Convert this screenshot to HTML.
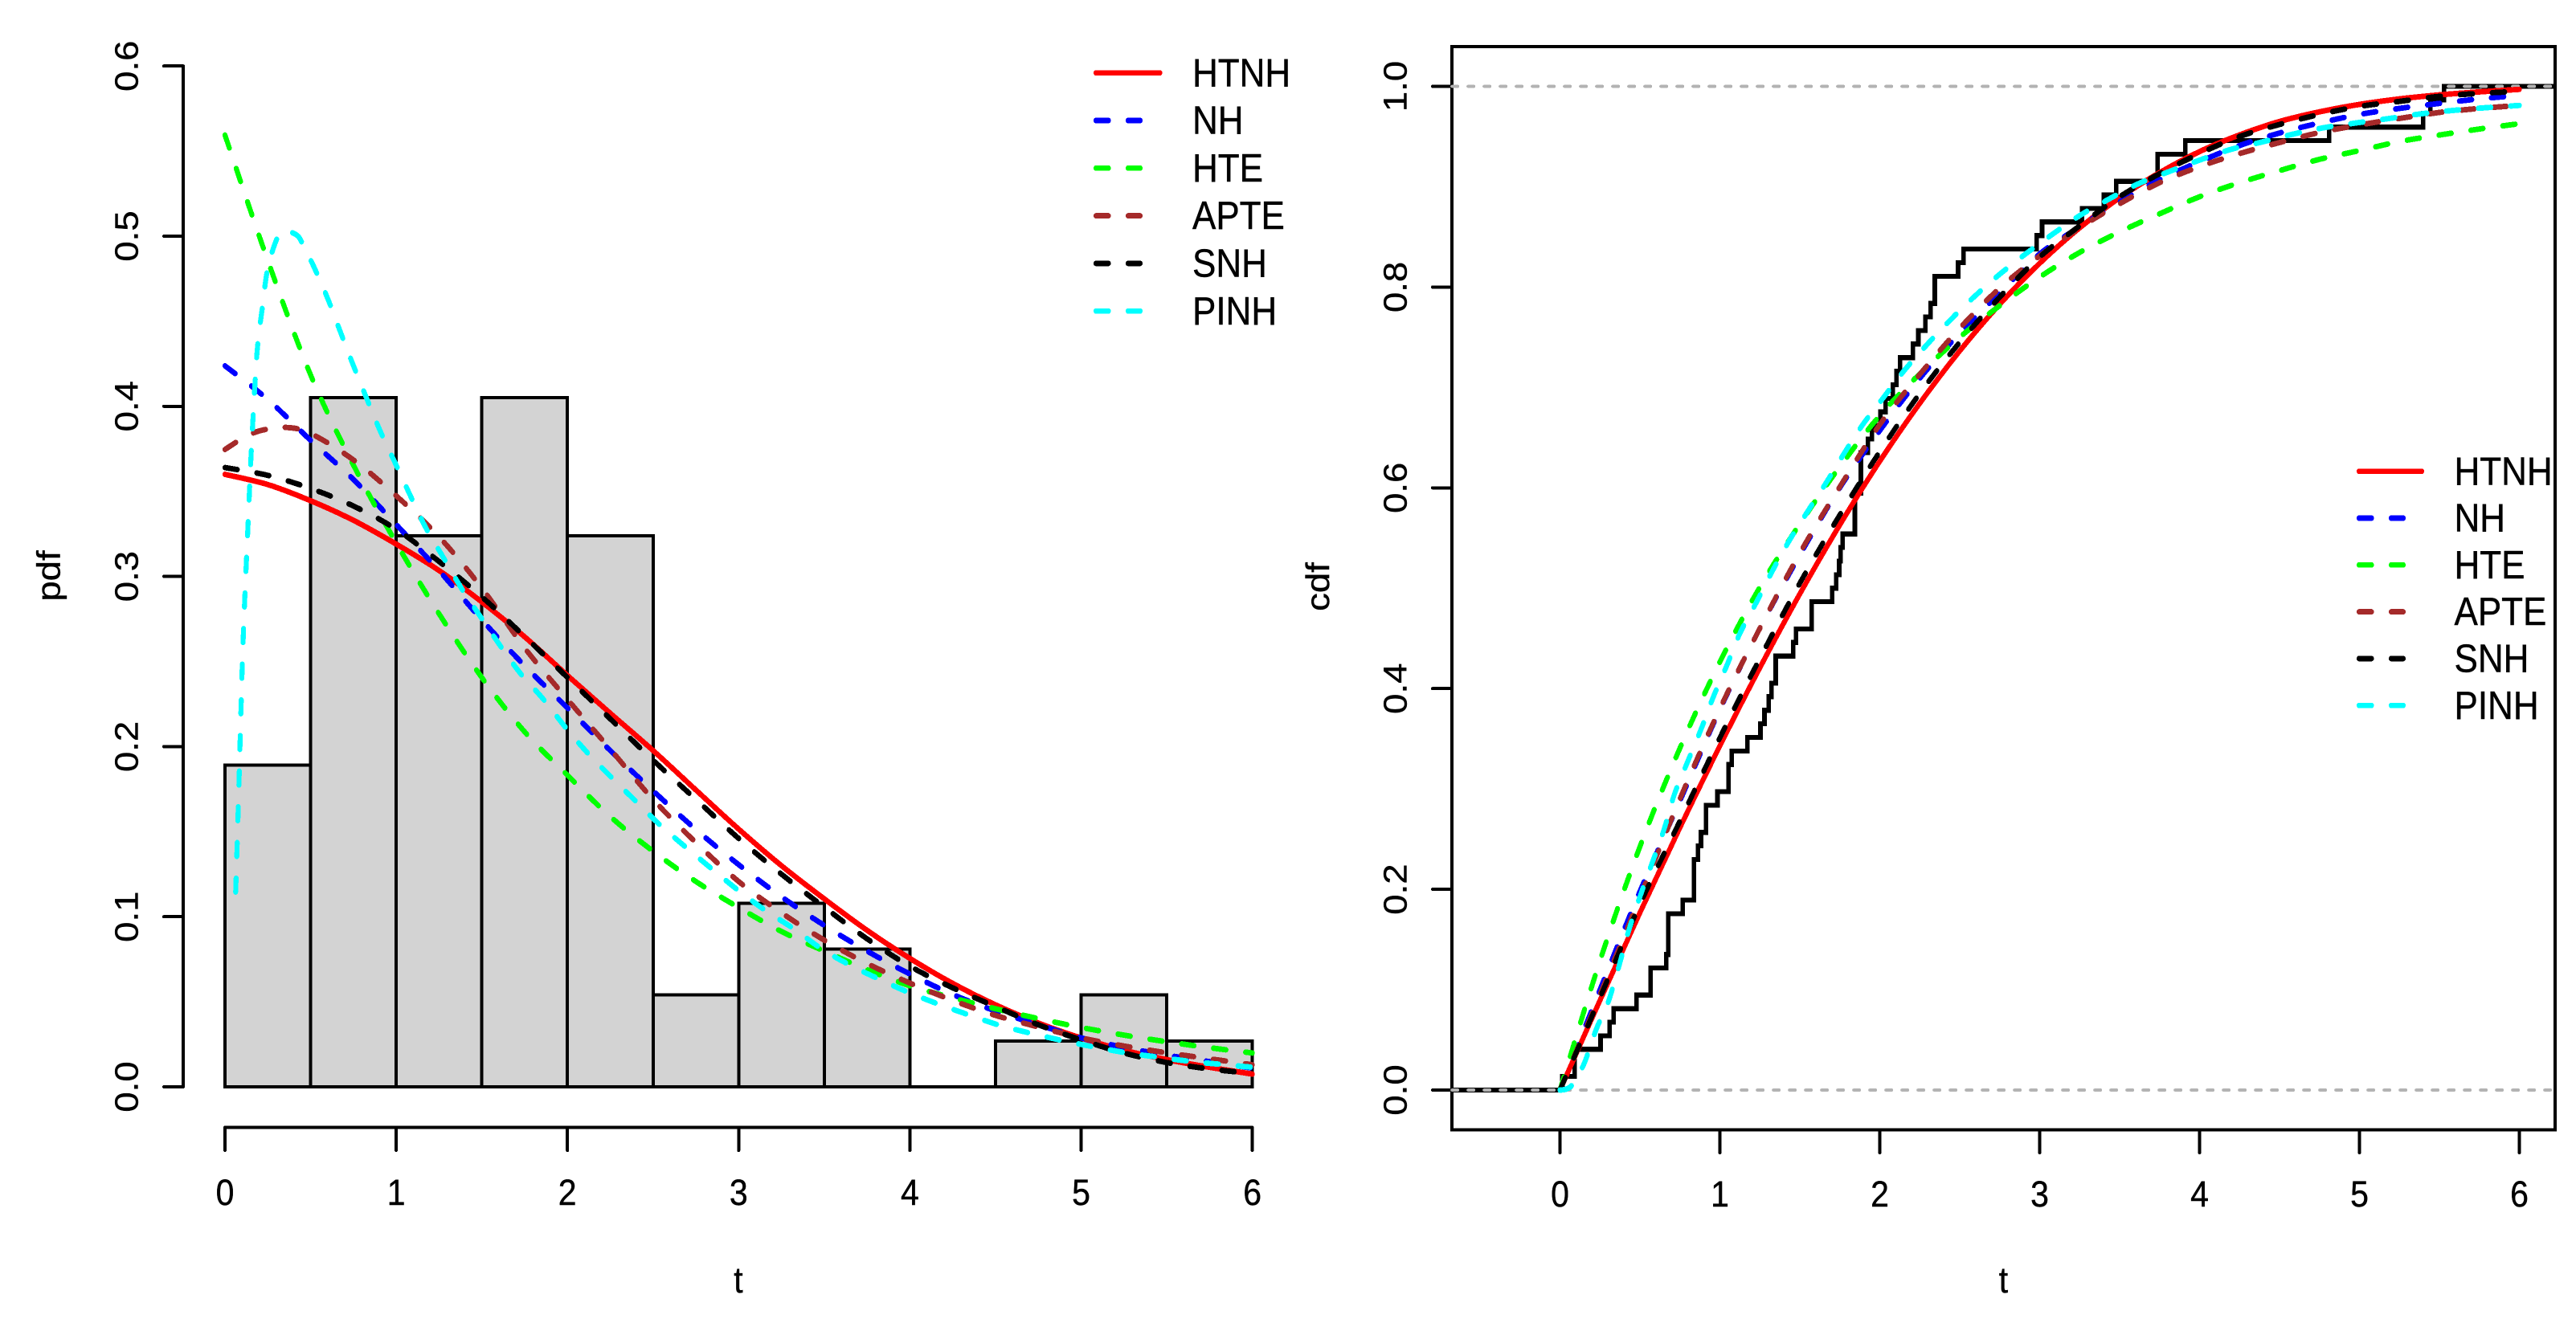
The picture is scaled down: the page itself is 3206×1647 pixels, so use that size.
<!DOCTYPE html>
<html lang="en">
<head>
<meta charset="utf-8">
<title>Fitted pdf and cdf comparison</title>
<style>
html,body{margin:0;padding:0;background:#fff;}
svg{display:block;font-family:"Liberation Sans",Arial,sans-serif;}
</style>
</head>
<body>
<svg id="figure" xmlns="http://www.w3.org/2000/svg" width="3206" height="1647" viewBox="0 0 3206 1647">
  <rect x="0" y="0" width="3206" height="1647" fill="#ffffff"/>
  <g id="pdf-panel"></g>
  <g id="cdf-panel"></g>
</svg>
<script>
// ---- shared categories ----
const modelNames = ['HTNH', 'NH', 'HTE', 'APTE', 'SNH', 'PINH'];
const modelColors = ['#ff0000', '#0000ff', '#00ff00', '#a52a2a', '#000000', '#00ffff'];

// ---- pdf panel data ----
const histBreaks = [0, 0.5, 1, 1.5, 2, 2.5, 3, 3.5, 4, 4.5, 5, 5.5, 6];
const histDensity = [0.189, 0.405, 0.324, 0.405, 0.324, 0.054, 0.108, 0.081, 0, 0.027, 0.054, 0.027];
const pdfXTicks = [0, 1, 2, 3, 4, 5, 6];
const pdfYTicks = [0, 0.1, 0.2, 0.3, 0.4, 0.5, 0.6];
const gridTimes = [0, 0.25, 0.5, 0.75, 1, 1.25, 1.5, 1.75, 2, 2.25, 2.5, 2.75, 3, 3.25, 3.5, 3.75, 4, 4.25, 4.5, 4.75, 5, 5.25, 5.5, 5.75, 6];
const pdfHTNH = [0.360, 0.354, 0.3445, 0.333, 0.319, 0.3035, 0.285, 0.2645, 0.2418, 0.2196, 0.1977, 0.1745, 0.1515, 0.130, 0.1105, 0.092, 0.0755, 0.0608, 0.0482, 0.0375, 0.0287, 0.0215, 0.016, 0.0115, 0.0075];
const pdfNH = [0.4238, 0.404, 0.380, 0.357, 0.3305, 0.3034, 0.2745, 0.2475, 0.2227, 0.1977, 0.174, 0.1513, 0.1306, 0.1117, 0.0949, 0.0798, 0.0663, 0.0543, 0.0446, 0.0365, 0.0288, 0.0232, 0.0186, 0.0148, 0.011];
const pdfHTE = [0.5594, 0.4857, 0.4185, 0.3655, 0.3197, 0.2781, 0.2406, 0.2087, 0.1832, 0.1589, 0.1385, 0.1207, 0.1054, 0.0913, 0.0798, 0.0689, 0.0594, 0.0523, 0.0459, 0.0401, 0.0349, 0.0304, 0.0265, 0.023, 0.0199];
const pdfAPTETimes = [0, 0.1, 0.2, 0.35, 0.5, 0.75, 1, 1.25, 1.5, 1.75, 2, 2.25, 2.5, 2.75, 3, 3.25, 3.5, 3.75, 4, 4.25, 4.5, 4.75, 5, 5.25, 5.5, 5.75, 6];
const pdfAPTE = [0.3746, 0.381, 0.3855, 0.3876, 0.384, 0.3685, 0.3474, 0.3233, 0.2932, 0.258, 0.2278, 0.1985, 0.169, 0.1436, 0.1207, 0.1023, 0.0862, 0.0725, 0.061, 0.0508, 0.042, 0.0352, 0.0288, 0.024, 0.02, 0.0165, 0.013];
const pdfSNH = [0.364, 0.3594, 0.3517, 0.3414, 0.3277, 0.3088, 0.288, 0.2647, 0.2406, 0.2163, 0.192, 0.169, 0.146, 0.125, 0.1056, 0.087, 0.0709, 0.0582, 0.0472, 0.0365, 0.0276, 0.0199, 0.0143, 0.0105, 0.0079];
const pdfPINHTimes = [0.0625, 0.078, 0.09, 0.102, 0.1166, 0.1347, 0.1525, 0.177, 0.1924, 0.219, 0.247, 0.2925, 0.3363, 0.4223, 0.466, 0.5193, 0.602, 0.6757, 0.751, 0.829, 0.907, 1, 1.089, 1.176, 1.275, 1.38, 1.5, 1.604, 1.724, 1.858, 1.987, 2.112, 2.256, 2.397, 2.541, 2.687, 2.84, 2.995, 3.16, 3.325, 3.484, 3.647, 3.82, 3.99, 4.17, 4.35, 4.53, 4.71, 4.9, 5.09, 5.27, 5.46, 5.65, 5.84, 6];
const pdfPINH = [0.1145, 0.1654, 0.209, 0.2509, 0.2895, 0.3305, 0.3715, 0.4161, 0.4374, 0.4586, 0.4797, 0.4957, 0.5028, 0.5004, 0.4924, 0.482, 0.4628, 0.4433, 0.4237, 0.4043, 0.3854, 0.3654, 0.3461, 0.328, 0.3112, 0.2932, 0.2752, 0.2598, 0.2432, 0.228, 0.2115, 0.1969, 0.182, 0.1681, 0.1539, 0.1412, 0.1284, 0.1157, 0.1034, 0.0927, 0.0811, 0.0717, 0.0633, 0.0556, 0.0485, 0.0421, 0.036, 0.0314, 0.027, 0.0232, 0.0199, 0.0173, 0.0148, 0.013, 0.0115];

// ---- cdf panel data ----
const cdfXTicks = [0, 1, 2, 3, 4, 5, 6];
const cdfYTicks = [0, 0.2, 0.4, 0.6, 0.8, 1];
const cdfRefLevels = [0, 1];
const cdfXRange = [-0.676, 6.224];
const ecdfTimes = [0.015, 0.092, 0.092, 0.254, 0.310, 0.336, 0.479, 0.567, 0.567, 0.664, 0.677, 0.677, 0.677, 0.767, 0.838, 0.838, 0.838, 0.864, 0.882, 0.913, 0.913, 0.985, 1.054, 1.054, 1.074, 1.172, 1.254, 1.279, 1.305, 1.323, 1.349, 1.349, 1.459, 1.477, 1.574, 1.574, 1.703, 1.728, 1.746, 1.756, 1.767, 1.844, 1.844, 1.844, 1.882, 1.882, 1.882, 1.926, 1.951, 2.003, 2.036, 2.082, 2.105, 2.126, 2.208, 2.241, 2.285, 2.318, 2.344, 2.344, 2.49, 2.524, 2.981, 3.015, 3.265, 3.402, 3.479, 3.738, 3.738, 3.911, 4.810, 5.399, 5.443, 5.528];
const cdfHTNH = [0, 0.0893, 0.1767, 0.2614, 0.3429, 0.4207, 0.4943, 0.5631, 0.6265, 0.6842, 0.7364, 0.7829, 0.8237, 0.859, 0.889, 0.914, 0.935, 0.9516, 0.965, 0.9746, 0.982, 0.9875, 0.9915, 0.9945, 0.997];
const cdfNH = [0, 0.1, 0.198, 0.288, 0.379, 0.46, 0.533, 0.6, 0.657, 0.709, 0.754, 0.794, 0.833, 0.86, 0.885, 0.907, 0.925, 0.941, 0.9535, 0.9635, 0.972, 0.978, 0.983, 0.9875, 0.991];
const cdfHTE = [0, 0.1287, 0.2425, 0.3406, 0.4265, 0.501, 0.564, 0.621, 0.672, 0.7135, 0.75, 0.7815, 0.81, 0.8345, 0.855, 0.873, 0.89, 0.904, 0.916, 0.9273, 0.936, 0.945, 0.9515, 0.9575, 0.9628];
const cdfAPTE = [0, 0.095, 0.192, 0.29, 0.38, 0.46, 0.535, 0.601, 0.663, 0.713, 0.759, 0.799, 0.831, 0.859, 0.883, 0.904, 0.92, 0.933, 0.944, 0.954, 0.9615, 0.968, 0.974, 0.978, 0.981];
const cdfSNH = [0, 0.092, 0.185, 0.268, 0.351, 0.43, 0.505, 0.573, 0.636, 0.694, 0.745, 0.79, 0.83, 0.861, 0.89, 0.913, 0.933, 0.95, 0.962, 0.972, 0.98, 0.985, 0.99, 0.993, 0.995];
const cdfPINHTimes = [0, 0.04, 0.08, 0.151, 0.228, 0.3, 0.369, 0.433, 0.51, 0.574, 0.651, 0.715, 0.792, 0.882, 0.959, 1.044, 1.126, 1.228, 1.326, 1.433, 1.549, 1.669, 1.779, 1.895, 2.023, 2.151, 2.297, 2.438, 2.588, 2.748, 2.911, 3.079, 3.247, 3.428, 3.608, 3.8, 3.983, 4.19, 4.384, 4.577, 4.77, 4.977, 5.17, 5.38, 5.572, 5.78, 6];
const cdfPINH = [0, 0.001, 0.006, 0.0264, 0.061, 0.0869, 0.1236, 0.1604, 0.1971, 0.2252, 0.2598, 0.2944, 0.3247, 0.3593, 0.3917, 0.4232, 0.4552, 0.4858, 0.5164, 0.5471, 0.5765, 0.6062, 0.6348, 0.6633, 0.6899, 0.7165, 0.743, 0.7667, 0.79, 0.8125, 0.8329, 0.8525, 0.8709, 0.8872, 0.9023, 0.9145, 0.9255, 0.9369, 0.9443, 0.9521, 0.9586, 0.9635, 0.9676, 0.9725, 0.9758, 0.9786, 0.981];

// ---- axis functions ----
function xPdf(t) { return 280 + 213.1 * t; }
function yPdf(v) { return 1353 - 2118 * v; }
function xCdf(t) { return 1941.5 + 199 * t; }
function yCdf(v) { return 1357 - 1249.5 * v; }

const NS = 'http://www.w3.org/2000/svg';
const AXIS_W = 4;
const CURVE_W = 6.2;
const ECDF_W = 5.6;
const DASH = '15.5 24.5';
const STRETCH = 1.11;
const AXIS_FONT = 41;
const LEGEND_FONT = 44;

function make(tag, parent, attrs) {
  const n = document.createElementNS(NS, tag);
  for (const k in attrs) n.setAttribute(k, attrs[k]);
  parent.appendChild(n);
  return n;
}
// Strokes are drawn in a space compressed by STRETCH and scaled back,
// reproducing the anisotropic stroke and dash geometry of the resized source.
function smoothPath(ts, vs, fx, fy) {
  const p = ts.map(function (t, i) { return [fx(t), fy(vs[i]) / STRETCH]; });
  let d = 'M' + p[0][0].toFixed(1) + ' ' + p[0][1].toFixed(1);
  for (let i = 0; i < p.length - 1; i++) {
    const a = p[Math.max(i - 1, 0)], b = p[i], c = p[i + 1], e = p[Math.min(i + 2, p.length - 1)];
    const c1x = b[0] + (c[0] - a[0]) / 6, c1y = b[1] + (c[1] - a[1]) / 6;
    const c2x = c[0] - (e[0] - b[0]) / 6, c2y = c[1] - (e[1] - b[1]) / 6;
    d += 'C' + c1x.toFixed(2) + ' ' + c1y.toFixed(2) + ' ' + c2x.toFixed(2) + ' ' + c2y.toFixed(2) + ' ' + c[0].toFixed(2) + ' ' + c[1].toFixed(2);
  }
  return d;
}
function curveAttrs(d, color, dashed) {
  const a = { d: d, transform: 'scale(1,' + STRETCH + ')', fill: 'none', stroke: color, 'stroke-width': CURVE_W, 'stroke-linecap': 'round', 'stroke-linejoin': 'round', 'shape-rendering': 'crispEdges' };
  if (dashed) a['stroke-dasharray'] = DASH;
  return a;
}
function axisAttrs(d) {
  return { d: d, fill: 'none', stroke: '#000', 'stroke-width': AXIS_W, 'stroke-linecap': 'round', 'shape-rendering': 'crispEdges' };
}
function hText(x, y, anchor, size) {
  return { transform: 'translate(' + x + ',' + y + ') scale(1,' + STRETCH + ')', 'text-anchor': anchor, 'font-size': size, fill: '#000', stroke: '#000', 'stroke-width': 0.4 };
}
function vText(x, y, size) {
  return { transform: 'translate(' + x + ',' + y + ') scale(1,' + STRETCH + ') rotate(-90)', 'text-anchor': 'middle', 'font-size': size, fill: '#000', stroke: '#000', 'stroke-width': 0.4 };
}

// ================= PDF PANEL =================
const pdfPanel = document.getElementById('pdf-panel');

histDensity.forEach(function (h, i) {
  const x0 = xPdf(histBreaks[i]), x1 = xPdf(histBreaks[i + 1]), y0 = yPdf(0), y1 = yPdf(h);
  const el = make('path', pdfPanel, { d: 'M' + x0 + ' ' + y0 + 'V' + y1 + 'H' + x1 + 'V' + y0 + 'Z', fill: '#d3d3d3', stroke: '#000', 'stroke-width': AXIS_W, 'shape-rendering': 'crispEdges' });
  
  
});

const pdfXAxis = make('path', pdfPanel, axisAttrs('M' + xPdf(pdfXTicks[0]) + ' 1403.5H' + xPdf(pdfXTicks[pdfXTicks.length - 1])));


pdfXTicks.forEach(function (t) {
  const tick = make('path', pdfPanel, axisAttrs('M' + xPdf(t) + ' 1403.5V1432'));
  
  
  const lab = make('text', pdfPanel, hText(xPdf(t), 1500, 'middle', AXIS_FONT));
  lab.textContent = String(t);
  
  
});
const pdfYAxis = make('path', pdfPanel, axisAttrs('M228 ' + yPdf(pdfYTicks[0]) + 'V' + yPdf(pdfYTicks[pdfYTicks.length - 1])));


pdfYTicks.forEach(function (v) {
  const tick = make('path', pdfPanel, axisAttrs('M228 ' + yPdf(v) + 'H204'));
  
  
  const lab = make('text', pdfPanel, vText(171.5, yPdf(v), AXIS_FONT));
  lab.textContent = v.toFixed(1);
  
  
});
const pdfXTitle = make('text', pdfPanel, hText(919, 1609, 'middle', AXIS_FONT));
pdfXTitle.textContent = 't';


const pdfYTitle = make('text', pdfPanel, vText(74.6, 717, AXIS_FONT));
pdfYTitle.textContent = 'pdf';



const curveHTNHpdf = make('path', pdfPanel, curveAttrs(smoothPath(gridTimes, pdfHTNH, xPdf, yPdf), modelColors[0], false));


const curveNHpdf = make('path', pdfPanel, curveAttrs(smoothPath(gridTimes, pdfNH, xPdf, yPdf), modelColors[1], true));


const curveHTEpdf = make('path', pdfPanel, curveAttrs(smoothPath(gridTimes, pdfHTE, xPdf, yPdf), modelColors[2], true));


const curveAPTEpdf = make('path', pdfPanel, curveAttrs(smoothPath(pdfAPTETimes, pdfAPTE, xPdf, yPdf), modelColors[3], true));


const curveSNHpdf = make('path', pdfPanel, curveAttrs(smoothPath(gridTimes, pdfSNH, xPdf, yPdf), modelColors[4], true));


const curvePINHpdf = make('path', pdfPanel, curveAttrs(smoothPath(pdfPINHTimes, pdfPINH, xPdf, yPdf), modelColors[5], true));



modelNames.forEach(function (name, i) {
  const rowY = 90.7 + 59.3 * i;
  const keyY = (rowY / STRETCH).toFixed(2);
  const key = make('path', pdfPanel, curveAttrs(i === 0 ? 'M1364 ' + keyY + 'H1443.5' : 'M1364 ' + keyY + 'H1419', modelColors[i], i !== 0));
  
  
  const lab = make('text', pdfPanel, hText(1484, rowY + 16.6, 'start', LEGEND_FONT));
  lab.textContent = name;
  
  
});

// ================= CDF PANEL =================
const cdfPanel = document.getElementById('cdf-panel');

const cdfFrame = make('rect', cdfPanel, { x: xCdf(cdfXRange[0]), y: 58, width: xCdf(cdfXRange[1]) - xCdf(cdfXRange[0]), height: 1348.7, fill: 'none', stroke: '#000', 'stroke-width': AXIS_W, 'shape-rendering': 'crispEdges' });



cdfXTicks.forEach(function (t) {
  const tick = make('path', cdfPanel, axisAttrs('M' + xCdf(t) + ' 1406.7V1435'));
  
  
  const lab = make('text', cdfPanel, hText(xCdf(t), 1502, 'middle', AXIS_FONT));
  lab.textContent = String(t);
  
  
});
cdfYTicks.forEach(function (v) {
  const tick = make('path', cdfPanel, axisAttrs('M' + xCdf(cdfXRange[0]) + ' ' + yCdf(v) + 'H1783'));
  
  
  const lab = make('text', cdfPanel, vText(1750.5, yCdf(v), AXIS_FONT));
  lab.textContent = v.toFixed(1);
  
  
});
const cdfXTitle = make('text', cdfPanel, hText(2493.5, 1609, 'middle', AXIS_FONT));
cdfXTitle.textContent = 't';


const cdfYTitle = make('text', cdfPanel, vText(1654, 730.5, AXIS_FONT));
cdfYTitle.textContent = 'cdf';



let ecdfD = 'M' + xCdf(cdfXRange[0]) + ' ' + (yCdf(0) / STRETCH).toFixed(2);
ecdfTimes.forEach(function (t, i) {
  ecdfD += 'H' + xCdf(t).toFixed(1) + 'V' + (yCdf((i + 1) / ecdfTimes.length) / STRETCH).toFixed(2);
});
ecdfD += 'H' + xCdf(cdfXRange[1]);
const ecdfLine = make('path', cdfPanel, { d: ecdfD, transform: 'scale(1,' + STRETCH + ')', fill: 'none', stroke: '#000', 'stroke-width': ECDF_W, 'stroke-linejoin': 'miter', 'shape-rendering': 'crispEdges' });



cdfRefLevels.forEach(function (v) {
  const ref = make('path', cdfPanel, { d: 'M' + xCdf(cdfXRange[0]) + ' ' + yCdf(v) + 'H' + xCdf(cdfXRange[1]), fill: 'none', stroke: '#b3b3b3', 'stroke-width': 3.6, 'stroke-dasharray': '7.5 12.5', 'stroke-linecap': 'round', 'shape-rendering': 'crispEdges' });
  
  
});

const curveHTNHcdf = make('path', cdfPanel, curveAttrs(smoothPath(gridTimes, cdfHTNH, xCdf, yCdf), modelColors[0], false));


const curveNHcdf = make('path', cdfPanel, curveAttrs(smoothPath(gridTimes, cdfNH, xCdf, yCdf), modelColors[1], true));


const curveHTEcdf = make('path', cdfPanel, curveAttrs(smoothPath(gridTimes, cdfHTE, xCdf, yCdf), modelColors[2], true));


const curveAPTEcdf = make('path', cdfPanel, curveAttrs(smoothPath(gridTimes, cdfAPTE, xCdf, yCdf), modelColors[3], true));


const curveSNHcdf = make('path', cdfPanel, curveAttrs(smoothPath(gridTimes, cdfSNH, xCdf, yCdf), modelColors[4], true));


const curvePINHcdf = make('path', cdfPanel, curveAttrs(smoothPath(cdfPINHTimes, cdfPINH, xCdf, yCdf), modelColors[5], true));



modelNames.forEach(function (name, i) {
  const rowY = 586.7 + 58.3 * i;
  const keyY = (rowY / STRETCH).toFixed(2);
  const key = make('path', cdfPanel, curveAttrs(i === 0 ? 'M2936 ' + keyY + 'H3014' : 'M2936 ' + keyY + 'H2991', modelColors[i], i !== 0));
  
  
  const lab = make('text', cdfPanel, hText(3054.5, rowY + 16.6, 'start', LEGEND_FONT));
  lab.textContent = name;
  
  
});
</script>
</body>
</html>
